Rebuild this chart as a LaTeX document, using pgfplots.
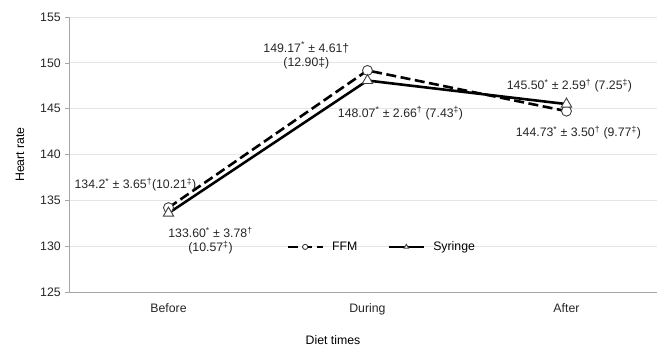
\documentclass[border=0pt]{standalone}
\usepackage{pgfplots}
\pgfplotsset{compat=1.18}
\usepackage{fontspec}
\setmainfont{Liberation Sans}
\begin{document}
\fontsize{12.3}{14.5}\selectfont
\begin{tikzpicture}
\begin{axis}[
  scale only axis,
  width=588pt, height=275pt,
  xmin=-0.5, xmax=2.455,
  ymin=125, ymax=155,
  ytick={125,130,...,155},
  xtick={0,1,2},
  xticklabels={Before,During,After},
  extra x ticks={0.5,1.5},
  extra x tick labels={},
  extra x tick style={major tick length=4pt, tick style={draw=gray!70, line width=0.6pt}},
  x tick style={draw=none},
  y tick style={draw=gray!70, line width=0.6pt},
  major tick length=4pt,
  tick align=outside,
  axis x line*=bottom,
  axis y line*=left,
  axis line style={draw=gray!70, line width=0.8pt, -},
  ymajorgrids,
  grid style={draw=gray!20, line width=0.7pt},
  ticklabel style={font=\fontsize{12.3}{14.5}\selectfont, text=black!85},
  /pgf/number format/assume math mode=true,
  xticklabel style={yshift=-3pt},
  ylabel={Heart rate},
  xlabel={Diet times},
  ylabel style={at={(axis description cs:-0.0833,0.5)}, anchor=center, rotate=0, font=\fontsize{12.3}{14.5}\selectfont},
  xlabel style={at={(axis description cs:0.449,-0.1745)}, anchor=center, font=\fontsize{12.3}{14.5}\selectfont},
  legend style={draw=none, fill=none, at={(axis description cs:0.364,0.164)}, anchor=west,
    legend columns=2, font=\fontsize{12.3}{14.5}\selectfont,
    /tikz/every odd column/.append style={column sep=6pt},
    /tikz/every even column/.append style={column sep=28pt}},
  legend cell align=left,
  legend image code/.code={\draw[mark repeat=2,mark phase=2, mark size=2.6pt] plot coordinates {(0cm,0cm) (0.62cm,0cm) (1.24cm,0cm)};},
  clip=false,
]
\addplot[black, line width=2.6pt, dash pattern=on 10pt off 4.5pt,
  mark=*, mark size=5pt, mark options={solid, fill=white, draw=black!75, line width=0.9pt}]
  coordinates {(0,134.2) (1,149.17) (2,144.73)};
\addlegendentry{FFM}
\addplot[black, line width=2.6pt,
  mark=triangle*, mark size=6pt, mark options={solid, fill=white, draw=black!75, line width=0.9pt}]
  coordinates {(0,133.60) (1,148.07) (2,145.50)};
\addlegendentry{Syringe}

\node[text=black!85] at (axis cs:-0.166,136.7) {134.2\textsuperscript{*} ± 3.65\textsuperscript{†}(10.21\textsuperscript{‡})};
\node[text=black!85, align=center] at (axis cs:0.211,130.6) {133.60\textsuperscript{*} ± 3.78\textsuperscript{†}\\(10.57\textsuperscript{‡})};
\node[text=black!85, align=center] at (axis cs:0.693,150.8) {149.17\textsuperscript{*} ± 4.61†\\(12.90‡)};
\node[text=black!85] at (axis cs:1.166,144.5) {148.07\textsuperscript{*} ± 2.66\textsuperscript{†} (7.43\textsuperscript{‡})};
\node[text=black!85] at (axis cs:2.015,147.5) {145.50\textsuperscript{*} ± 2.59\textsuperscript{†} (7.25\textsuperscript{‡})};
\node[text=black!85] at (axis cs:2.06,142.35) {144.73\textsuperscript{*} ± 3.50\textsuperscript{†} (9.77\textsuperscript{‡})};
\coordinate (sw) at (rel axis cs:0,0);
\end{axis}
\pgfresetboundingbox
\path (sw) ++(-69pt,-54pt) rectangle ++(658pt,346pt);
\end{tikzpicture}
\end{document}
